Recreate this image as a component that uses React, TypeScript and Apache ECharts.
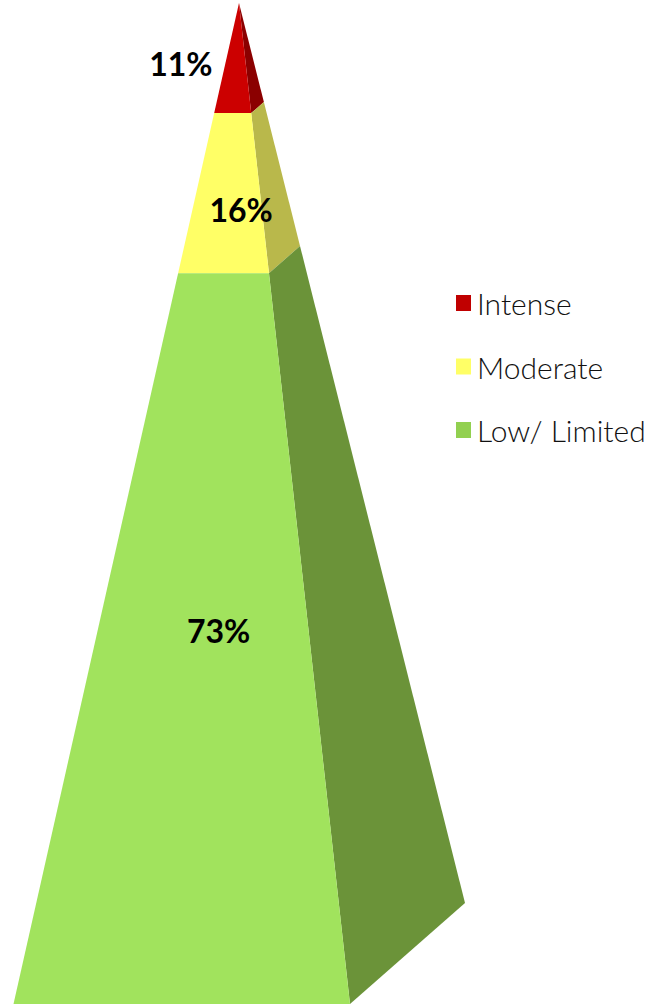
import React, { useEffect, useRef } from "react";
import * as echarts from "echarts";

const categories = ["Intense", "Moderate", "Low/ Limited"];
const shares = [11, 16, 73];
const frontColors = ["#CC0000", "#FFFF66", "#A1E35D"];
const sideColors = ["#8B0000", "#B9B84B", "#6B9339"];
const legendColors = ["#C00000", "#FFFF66", "#92D050"];

// Pyramid outline in axis units: the apex sits at x = 0, share 0.
const BASE_LEFT = -225.5;
const BASE_FRONT = 111;
const BASE_BACK = 226;
const BACK_RISE = 0.899;

// Label placement relative to the middle of each band, in pixels.
const labelOffsets = [
  [-55, 5],
  [13, 16],
  [16, -8],
];

const FONT = "Lato, 'Open Sans', sans-serif";

function bandSeries(index: number) {
  const start = shares.slice(0, index).reduce((a, b) => a + b, 0);
  const end = start + shares[index];
  return {
    type: "custom",
    name: categories[index],
    coordinateSystem: "cartesian2d",
    itemStyle: { color: frontColors[index] },
    data: [[start, end, shares[index]]],
    silent: true,
    clip: false,
    renderItem: (_params: any, api: any) => {
      const from = api.value(0) as number;
      const to = api.value(1) as number;
      const left = (p: number) => api.coord([(BASE_LEFT * p) / 100, p]);
      const front = (p: number) => api.coord([(BASE_FRONT * p) / 100, p]);
      const back = (p: number) => api.coord([(BASE_BACK * p) / 100, p * BACK_RISE]);
      const mid = api.coord([(((BASE_LEFT + BASE_FRONT) / 2) * (from + to)) / 200, (from + to) / 2]);
      return {
        type: "group",
        children: [
          {
            type: "polygon",
            shape: { points: [front(from), back(from), back(to), front(to)] },
            style: { fill: sideColors[index] },
          },
          {
            type: "polygon",
            shape: { points: [left(from), front(from), front(to), left(to)] },
            style: { fill: frontColors[index] },
          },
          {
            type: "text",
            x: mid[0] + labelOffsets[index][0],
            y: mid[1] + labelOffsets[index][1],
            style: {
              text: `${api.value(2)}%`,
              fill: "#000000",
              font: `bold 32px ${FONT}`,
              align: "center",
              verticalAlign: "middle",
            },
          },
        ],
      };
    },
  };
}

export default function App() {
  const ref = useRef<HTMLDivElement>(null);

  useEffect(() => {
    document.body.style.margin = "0";
    const chart = echarts.init(ref.current!, undefined, { renderer: "svg" });
    chart.setOption({
      animation: false,
      backgroundColor: "#FFFFFF",
      grid: { left: 0, right: 0, top: 3, bottom: 0 },
      xAxis: { type: "value", min: -239, max: 413, show: false },
      yAxis: { type: "value", min: 0, max: 100, inverse: true, show: false },
      legend: {
        orient: "vertical",
        left: 451,
        top: 283,
        icon: "rect",
        itemWidth: 15,
        itemHeight: 16,
        itemGap: 33.5,
        selectedMode: false,
        textStyle: {
          fontFamily: FONT,
          fontSize: 30,
          fontWeight: 300,
          lineHeight: 30,
          color: "#111111",
          padding: [0, 0, 0, 1],
        },
        data: categories.map((name, i) => ({ name, itemStyle: { color: legendColors[i] } })),
      },
      series: categories.map((_, i) => bandSeries(i)),
    });
    return () => chart.dispose();
  }, []);

  return <div ref={ref} style={{ width: 652, height: 1004 }} />;
}
